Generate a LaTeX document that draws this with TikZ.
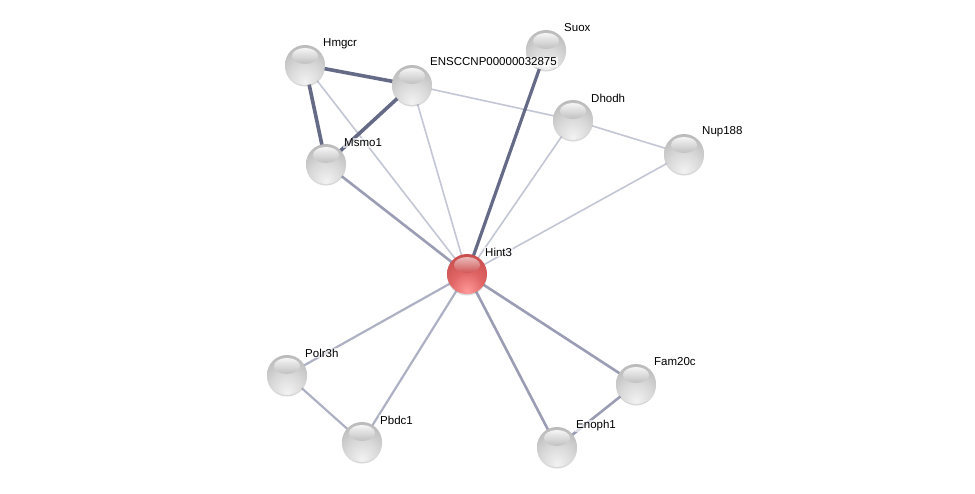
\documentclass[tikz,border=0pt]{standalone}
\usepackage{fontspec}
\setmainfont{Liberation Sans}
\usetikzlibrary{backgrounds,shadows}
\pgfdeclareradialshading{graysphere}{\pgfpoint{0bp}{-22bp}}{color(0bp)=(black!5); color(20bp)=(black!15); color(40bp)=(black!28); color(56bp)=(black!34); color(66bp)=(black!48); color(72bp)=(black!62); color(100bp)=(black!62)}
\pgfdeclareradialshading{redsphere}{\pgfpoint{0bp}{-22bp}}{color(0bp)=(red!40!white); color(20bp)=(red!55!white!88!black); color(40bp)=(red!62!white!78!black); color(56bp)=(red!62!white!70!black); color(66bp)=(red!55!black!75!white); color(72bp)=(red!50!black); color(100bp)=(red!50!black)}
\definecolor{edark}{HTML}{656A86}
\definecolor{emed}{HTML}{9A9DB4}
\definecolor{elm}{HTML}{AEB1C4}
\definecolor{elight}{HTML}{C3C6D5}
\tikzset{
  prot/.style={circle, minimum size=40pt, inner sep=0pt, shading=graysphere,
    drop shadow={opacity=0.3, shadow xshift=0pt, shadow yshift=-1.5pt}},
  hub/.style={circle, minimum size=40pt, inner sep=0pt, shading=redsphere,
    drop shadow={opacity=0.3, shadow xshift=0pt, shadow yshift=-1.5pt}},
  glint/.style={top color=white, bottom color=black!26, opacity=0.85},
  rglint/.style={top color=white, bottom color=red!62!white!78!black, opacity=0.6},
  lab/.style={anchor=west, font=\fontsize{11.5}{13}\selectfont, text=black, inner sep=1pt,
    fill=white, fill opacity=0.65, text opacity=1},
  strong/.style={draw=edark, line width=3.6pt},
  strongb/.style={draw=edark, line width=3.2pt},
  medium/.style={draw=emed, line width=2.6pt},
  lmed/.style={draw=elm, line width=2.2pt},
  weak/.style={draw=elight, line width=1.6pt}
}
\begin{document}
\begin{tikzpicture}[x=1pt,y=-1pt]
\useasboundingbox (0,0) rectangle (975,493);
% nodes
\node[prot] (hmgcr) at (305,65) {};
\node[prot] (ensc) at (412,85) {};
\node[prot] (suox) at (546,50) {};
\node[prot] (dhodh) at (573,120) {};
\node[prot] (nup) at (684,154) {};
\node[prot] (msmo) at (326,164) {};
\node[hub] (hint) at (467,274) {};
\node[prot] (polr) at (287,375) {};
\node[prot] (pbdc) at (362,442) {};
\node[prot] (fam) at (636,384) {};
\node[prot] (enoph) at (557,447) {};
% glints
\foreach \n in {hmgcr,ensc,suox,dhodh,nup,msmo,polr,pbdc,fam,enoph}{
  \path[glint] ([yshift=9pt]\n.center) ellipse (13pt and 8pt);
}
\path[rglint] ([yshift=9pt]hint.center) ellipse (13pt and 8pt);
% labels
\node[lab] (lhmgcr) at (322,44) {Hmgcr};
\node[lab] (lensc) at (429,62) {ENSCCNP00000032875};
\node[lab] (lsuox) at (563,28) {Suox};
\node[lab] (ldhodh) at (590,98) {Dhodh};
\node[lab] (lnup) at (701,132) {Nup188};
\node[lab] (lmsmo) at (343,143) {Msmo1};
\node[lab] (lhint) at (484,252) {Hint3};
\node[lab] (lpolr) at (304,353) {Polr3h};
\node[lab] (lpbdc) at (379,420) {Pbdc1};
\node[lab] (lfam) at (653,362) {Fam20c};
\node[lab] (lenoph) at (575,426) {Enoph1};
% edges
\begin{pgfonlayer}{background}
\fill[white] (0,0) rectangle (975,493);
\draw[weak] (hmgcr.center) -- (hint.center);
\draw[weak] (ensc.center) -- (hint.center);
\draw[weak] (ensc.center) -- (dhodh.center);
\draw[weak] (dhodh.center) -- (hint.center);
\draw[weak] (dhodh.center) -- (nup.center);
\draw[weak] (nup.center) -- (hint.center);
\draw[lmed] (hint.center) -- (polr.center);
\draw[lmed] (hint.center) -- (pbdc.center);
\draw[lmed] (polr.center) -- (pbdc.center);
\draw[medium] (msmo.center) -- (hint.center);
\draw[medium] (hint.center) -- (fam.center);
\draw[medium] (hint.center) -- (enoph.center);
\draw[medium] (fam.center) -- (enoph.center);
\draw[strongb] (suox.center) -- (hint.center);
\draw[strong] (hmgcr.center) -- (ensc.center);
\draw[strong] (hmgcr.center) -- (msmo.center);
\draw[strong] (ensc.center) -- (msmo.center);
\end{pgfonlayer}
\end{tikzpicture}
\end{document}
